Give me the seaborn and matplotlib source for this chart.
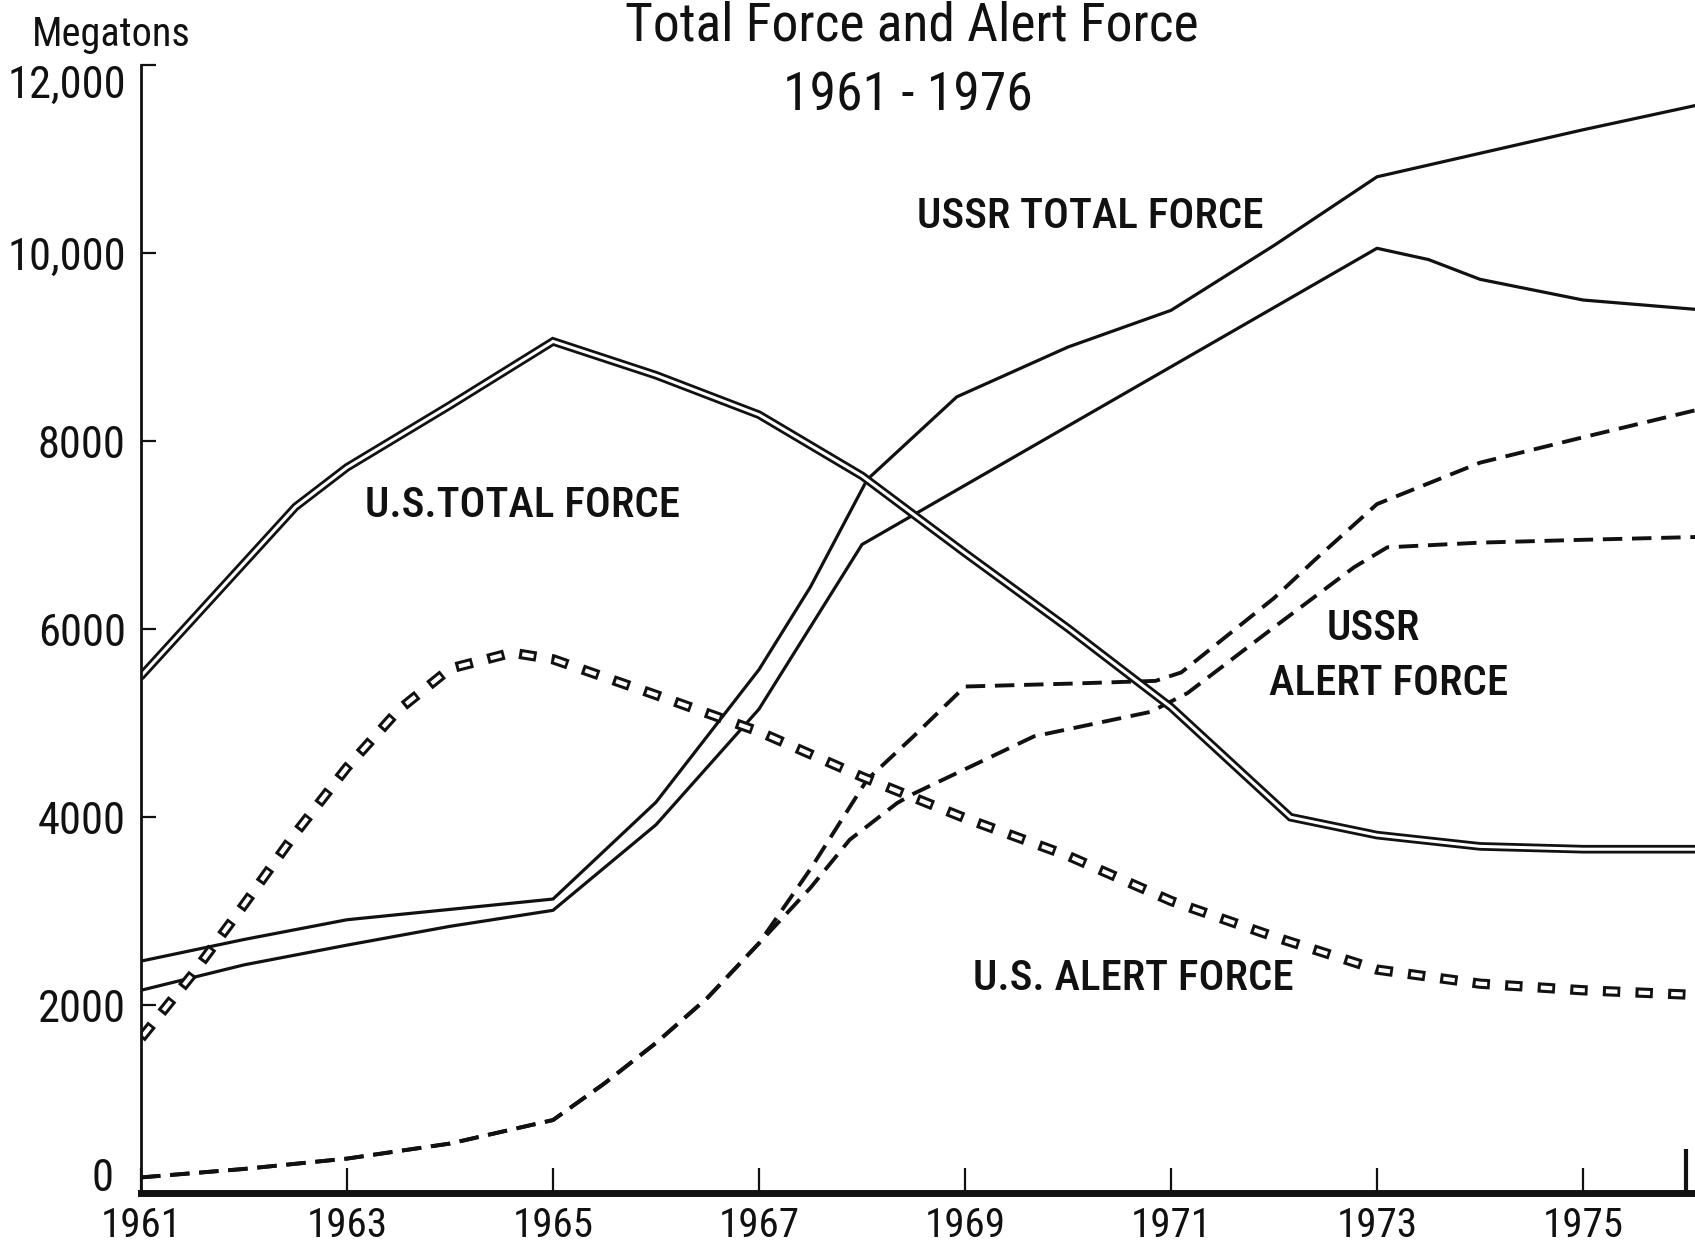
import matplotlib
matplotlib.use("Agg")
import matplotlib.pyplot as plt
from matplotlib import font_manager as fm
from matplotlib import transforms as mtransforms
import seaborn as sns
import pandas as pd

# ---------------- data ----------------
us_total_years = [1961, 1962, 1962.5, 1963, 1964, 1965, 1966, 1967, 1968, 1969,
                  1970, 1971, 1972.16, 1973, 1974, 1975, 1976.1]
us_total_mt = [5500, 6700, 7300, 7720, 8380, 9060, 8700, 8280, 7630, 6810,
               6010, 5170, 4000, 3810, 3690, 3660, 3660]

ussr_total_hi_years = [1961, 1962, 1963, 1964, 1965, 1966, 1967, 1967.5, 1968.05,
                       1968.92, 1970, 1971, 1972, 1973, 1974, 1975, 1976.1]
ussr_total_hi_mt = [2470, 2700, 2910, 3020, 3130, 4160, 5570, 6450, 7590,
                    8470, 9000, 9390, 10080, 10810, 11060, 11310, 11570]

ussr_total_lo_years = [1961, 1962, 1963, 1964, 1965, 1966, 1967, 1968, 1969,
                       1970, 1971, 1972, 1973, 1973.5, 1974, 1975, 1976.1]
ussr_total_lo_mt = [2160, 2430, 2640, 2840, 3010, 3920, 5150, 6900, 7530,
                    8160, 8790, 9420, 10050, 9930, 9720, 9500, 9400]

us_alert_years = [1961, 1961.5, 1962, 1962.5, 1963, 1963.5, 1964, 1964.6, 1965,
                  1966, 1967, 1968, 1969, 1970, 1971, 1972, 1973, 1974, 1975, 1976.1]
us_alert_mt = [1650, 2330, 3070, 3830, 4530, 5140, 5580, 5750, 5680,
               5300, 4910, 4430, 3990, 3590, 3110, 2730, 2380, 2230, 2160, 2110]

ussr_alert_a_years = [1961, 1962, 1963, 1964, 1965, 1965.5, 1966, 1966.5, 1967,
                      1967.5, 1968.05, 1968.5, 1969, 1970, 1970.85, 1971.1, 1972,
                      1972.4, 1973, 1974, 1975, 1976.1]
ussr_alert_a_mt = [170, 260, 370, 530, 780, 1170, 1600, 2080, 2660,
                   3450, 4400, 4860, 5390, 5420, 5450, 5540, 6330,
                   6740, 7330, 7770, 8040, 8330]

ussr_alert_b_years = [1961, 1962, 1963, 1964, 1965, 1965.5, 1966, 1966.5, 1967,
                      1967.5, 1967.88, 1968.34, 1968.5, 1969.67, 1970.8, 1971.16,
                      1972, 1972.78, 1973.1, 1974, 1975, 1976.1]
ussr_alert_b_mt = [170, 260, 370, 530, 780, 1170, 1600, 2080, 2660,
                   3250, 3760, 4150, 4250, 4860, 5120, 5320,
                   6020, 6660, 6870, 6920, 6950, 6980]

x_tick_years = [1961, 1963, 1965, 1967, 1969, 1971, 1973, 1975]
y_tick_values = [0, 2000, 4000, 6000, 8000, 10000, 12000]
y_tick_labels = ["", "2000", "4000", "6000", "8000", "10,000", ""]

title_line1 = "Total Force and Alert Force"
title_line2 = "1961 - 1976"

# ---------------- style ----------------
sns.set_style("ticks")
avail = {f.name for f in fm.fontManager.ttflist}
FONT = "DejaVu Sans"
for cand in ["Roboto Condensed", "Archivo Narrow", "PT Sans Narrow",
             "Liberation Sans Narrow", "DejaVu Sans"]:
    if cand in avail:
        FONT = cand
        break
plt.rcParams["font.family"] = [FONT, "DejaVu Sans"]
plt.rcParams["lines.scale_dashes"] = False
plt.rcParams["text.color"] = "black"

fig = plt.figure(figsize=(16.95, 12.54), dpi=100)
fig.patch.set_facecolor("white")
ax = fig.add_axes([141 / 1695, 1 - 1193.4 / 1254, 1554 / 1695, (1193.4 - 64.9) / 1254])
ax.set_facecolor("white")


def draw(years, vals, **kw):
    df = pd.DataFrame({"year": years, "mt": vals})
    sns.lineplot(data=df, x="year", y="mt", ax=ax, sort=False, estimator=None,
                 legend=False, **kw)


ink = "#111111"
# USSR total force band (two single lines)
draw(ussr_total_hi_years, ussr_total_hi_mt, color=ink, linewidth=2.3, solid_joinstyle="round")
draw(ussr_total_lo_years, ussr_total_lo_mt, color=ink, linewidth=2.3, solid_joinstyle="round")

# USSR alert force (dashed)
dash = (0, (14, 7))
draw(ussr_alert_a_years, ussr_alert_a_mt, color=ink, linewidth=2.8, linestyle=dash)
draw(ussr_alert_b_years, ussr_alert_b_mt, color=ink, linewidth=2.8, linestyle=dash)

# US total force (double line)
draw(us_total_years, us_total_mt, color=ink, linewidth=6.2, solid_joinstyle="miter")
draw(us_total_years, us_total_mt, color="white", linewidth=2.2, solid_joinstyle="miter")

# US alert force (hollow rectangles)
draw(us_alert_years, us_alert_mt, color=ink, linewidth=7.4, linestyle=(0, (12.5, 11)))
draw(us_alert_years, us_alert_mt, color="white", linewidth=3.0, linestyle=(21.3, (8.3, 15.2)))

# ---------------- axes ----------------
ax.set_xlim(1961, 1961 + 1554 / 103)
ax.set_ylim(0, 12000)
ax.set_xlabel("")
ax.set_ylabel("")
for s in ["top", "right"]:
    ax.spines[s].set_visible(False)
ax.spines["left"].set_linewidth(2.0)
ax.spines["bottom"].set_linewidth(5.0)
ax.spines["left"].set_color(ink)
ax.spines["bottom"].set_color(ink)

ax.set_xticks(x_tick_years)
ax.set_xticklabels([str(y) for y in x_tick_years])
ax.set_xticks([1976], minor=True)
ax.set_yticks(y_tick_values)
ax.set_yticklabels(y_tick_labels)
ax.tick_params(axis="x", which="major", direction="in", length=18, width=1.6,
               pad=9, labelsize=29.5, colors=ink)
ax.tick_params(axis="x", which="minor", direction="in", length=32, width=3.0, colors=ink)
ax.tick_params(axis="y", which="major", direction="in", length=11, width=1.6,
               pad=11, labelsize=32, colors=ink)
ax.tick_params(axis="y", which="minor", left=False)

# 12,000 and 0 labels sit slightly off their ticks in the original
yblend = mtransforms.blended_transform_factory(ax.transAxes, ax.transData)
off_top = mtransforms.ScaledTranslation(-11 / 72, -21 / 100, fig.dpi_scale_trans)
ax.text(0, 12000, "12,000", transform=yblend + off_top,
        ha="right", va="center", fontsize=32, color=ink)
off_zero = mtransforms.ScaledTranslation(-28 / 100, 14 / 100, fig.dpi_scale_trans)
ax.text(0, 0, "0", transform=yblend + off_zero,
        ha="right", va="center", fontsize=32, color=ink)

# ---------------- texts ----------------
fig.text(912 / 1695, 1 - 26 / 1254, title_line1, ha="center", va="center", fontsize=38.5, color=ink)
fig.text(908 / 1695, 1 - 96 / 1254, title_line2, ha="center", va="center", fontsize=38.5, color=ink)
fig.text(111 / 1695, 1 - 35 / 1254, "Megatons", ha="center", va="center", fontsize=29, color=ink)

lab_kw = dict(ha="center", va="center", fontsize=31, color=ink, fontweight="medium")
ax.text(1970.22, 10393, "USSR TOTAL FORCE", **lab_kw)
ax.text(1964.70, 7310, "U.S.TOTAL FORCE", **lab_kw)
ax.text(1972.96, 6002, "USSR", **lab_kw)
ax.text(1973.11, 5417, "ALERT FORCE", **lab_kw)
ax.text(1970.63, 2290, "U.S. ALERT FORCE", **lab_kw)

fig.savefig("out.png", dpi=100, facecolor="white")
